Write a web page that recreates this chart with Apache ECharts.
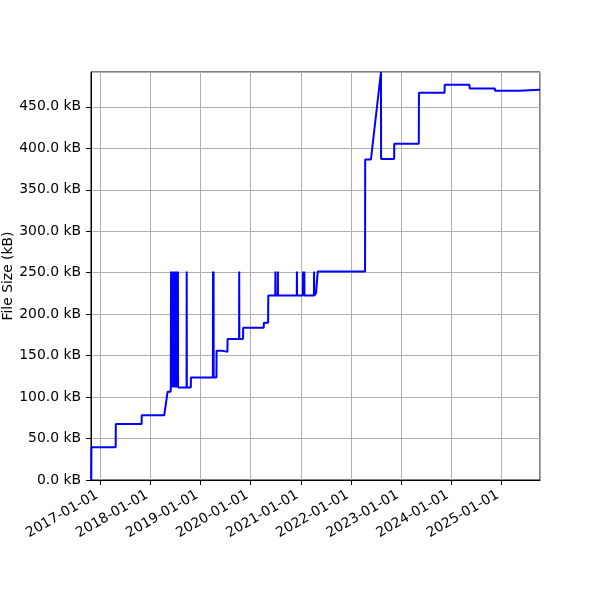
<!DOCTYPE html>
<html>
<head>
<meta charset="utf-8">
<script src="https://cdn.jsdelivr.net/npm/echarts@6/dist/echarts.min.js"></script>
<style>
html,body{margin:0;padding:0;background:#fff;}
#chart{width:600px;height:600px;}
</style>
</head>
<body>
<div id="chart"></div>
<script>
// Observation dates and file size (kB); rows kept aligned
const dates = [
  '2016-10-25','2016-10-26','2017-04-21','2017-04-22','2017-10-27','2017-10-28',
  '2018-04-10','2018-05-05','2018-05-27','2018-05-28',
  '2018-05-30','2018-05-31','2018-06-03','2018-06-04','2018-06-05','2018-06-08',
  '2018-06-09','2018-06-10','2018-06-13','2018-06-14','2018-06-15','2018-06-18',
  '2018-06-19','2018-06-20','2018-06-23','2018-06-24','2018-06-25','2018-06-28',
  '2018-06-29','2018-06-30','2018-07-03','2018-07-04','2018-07-05','2018-07-08',
  '2018-07-09','2018-07-10','2018-07-13','2018-07-14','2018-07-15','2018-07-18',
  '2018-07-19','2018-07-20',
  '2018-09-20','2018-09-21','2018-09-22','2018-10-21','2018-10-22',
  '2019-03-31','2019-04-01','2019-04-02','2019-04-04','2019-04-05','2019-04-06',
  '2019-04-26','2019-04-27','2019-06-06','2019-06-07','2019-07-15','2019-07-16',
  '2019-10-08','2019-10-09','2019-10-10','2019-11-06','2019-11-07',
  '2020-04-05','2020-04-06','2020-05-07','2020-05-08',
  '2020-06-28','2020-06-29','2020-06-30','2020-07-16','2020-07-17','2020-07-18',
  '2020-12-02','2020-12-03','2020-12-04','2021-01-16','2021-01-17','2021-01-18',
  '2021-01-25','2021-01-26','2021-01-27','2021-04-06','2021-04-07','2021-04-08',
  '2021-04-20','2021-04-21','2021-05-03','2021-05-04',
  '2022-04-14','2022-04-15','2022-05-27','2022-08-08','2022-08-09',
  '2022-11-12','2022-11-13','2023-05-11','2023-05-12','2023-11-15','2023-11-16',
  '2024-05-15','2024-05-16','2024-11-16','2024-11-17','2025-05-10','2025-05-11',
  '2025-10-11'
];
const sizes = [
  0, 39.5, 39.5, 67.5, 67.5, 78,
  78, 106.5, 106.5, 111.5,
  251.5, 111.5, 111.5, 251.5, 111.5, 111.5,
  251.5, 111.5, 111.5, 251.5, 111.5, 111.5,
  251.5, 111.5, 111.5, 251.5, 111.5, 111.5,
  251.5, 111.5, 111.5, 251.5, 111.5, 111.5,
  251.5, 111.5, 111.5, 251.5, 111.5, 111.5,
  251.5, 111.5,
  111.5, 251.5, 111.5, 111.5, 123.5,
  123.5, 251.5, 123.5, 123.5, 251.5, 123.5,
  123.5, 156, 156, 154.5, 154.5, 170,
  170, 251.5, 170, 170, 183.5,
  183.5, 189.5, 189.5, 222.5,
  222.5, 251.5, 222.5, 222.5, 251.5, 222.5,
  222.5, 251.5, 222.5, 222.5, 251.5, 222.5,
  222.5, 251.5, 222.5, 222.5, 251.5, 222.5,
  222.5, 225, 225, 251.5,
  251.5, 386.5, 386.5, 492, 387,
  387, 405.5, 405.5, 467, 467, 476.5,
  476.5, 472, 472, 469.5, 469.5, 470.5,
  470.5
];
const yTicks = [0, 50, 100, 150, 200, 250, 300, 350, 400, 450];
const xMin = '2016-10-23';
const xMax = '2025-10-11';
const yMax = 492;

const seriesData = dates.map((d, i) => [d, sizes[i]]);
const pad = n => (n < 10 ? '0' : '') + n;
const font = 'DejaVu Sans';
const fs = 13.9;

const chart = echarts.init(document.getElementById('chart'), null, {renderer: 'canvas'});
chart.setOption({
  animation: false,
  backgroundColor: '#ffffff',
  grid: {left: 91, right: 60, top: 72, bottom: 120, containLabel: false, outerBoundsMode: 'none',
         show: true, borderColor: '#000', borderWidth: 1, backgroundColor: 'transparent'},
  xAxis: {
    type: 'time',
    min: xMin, max: xMax,
    minInterval: 365 * 86400000, maxInterval: 366 * 86400000,
    axisLine: {show: true, lineStyle: {color: '#000', width: 1}},
    axisTick: {show: true, length: 5, lineStyle: {color: '#000', width: 1}},
    minorTick: {show: false},
    splitLine: {show: true, lineStyle: {color: '#b0b0b0', width: 1}},
    axisLabel: {
      rotate: 30, margin: 12, padding: [0, 4, 0, 0], color: '#000', fontFamily: font, fontSize: fs,
      showMinLabel: false, showMaxLabel: false, hideOverlap: false,
      formatter: v => { const d = new Date(v); return d.getFullYear() + '-' + pad(d.getMonth() + 1) + '-' + pad(d.getDate()); }
    }
  },
  yAxis: {
    type: 'value',
    min: 0, max: yMax, interval: 50,
    name: 'File Size (kB)', nameLocation: 'middle', nameGap: 76, nameMoveOverlap: false,
    nameTextStyle: {color: '#000', fontFamily: font, fontSize: fs},
    axisLine: {show: true, lineStyle: {color: '#000', width: 1}},
    axisTick: {show: true, length: 5, lineStyle: {color: '#000', width: 1}},
    splitLine: {show: true, lineStyle: {color: '#b0b0b0', width: 1}},
    axisLabel: {
      color: '#000', fontFamily: font, fontSize: fs, margin: 10, showMaxLabel: false,
      formatter: v => (yTicks.indexOf(v) >= 0 ? v.toFixed(1) + ' kB' : '')
    }
  },
  series: [{
    type: 'line',
    data: seriesData,
    showSymbol: false,
    symbol: 'none',
    lineStyle: {color: '#0000ff', width: 2},
    clip: true
  }]
});
</script>
</body>
</html>
